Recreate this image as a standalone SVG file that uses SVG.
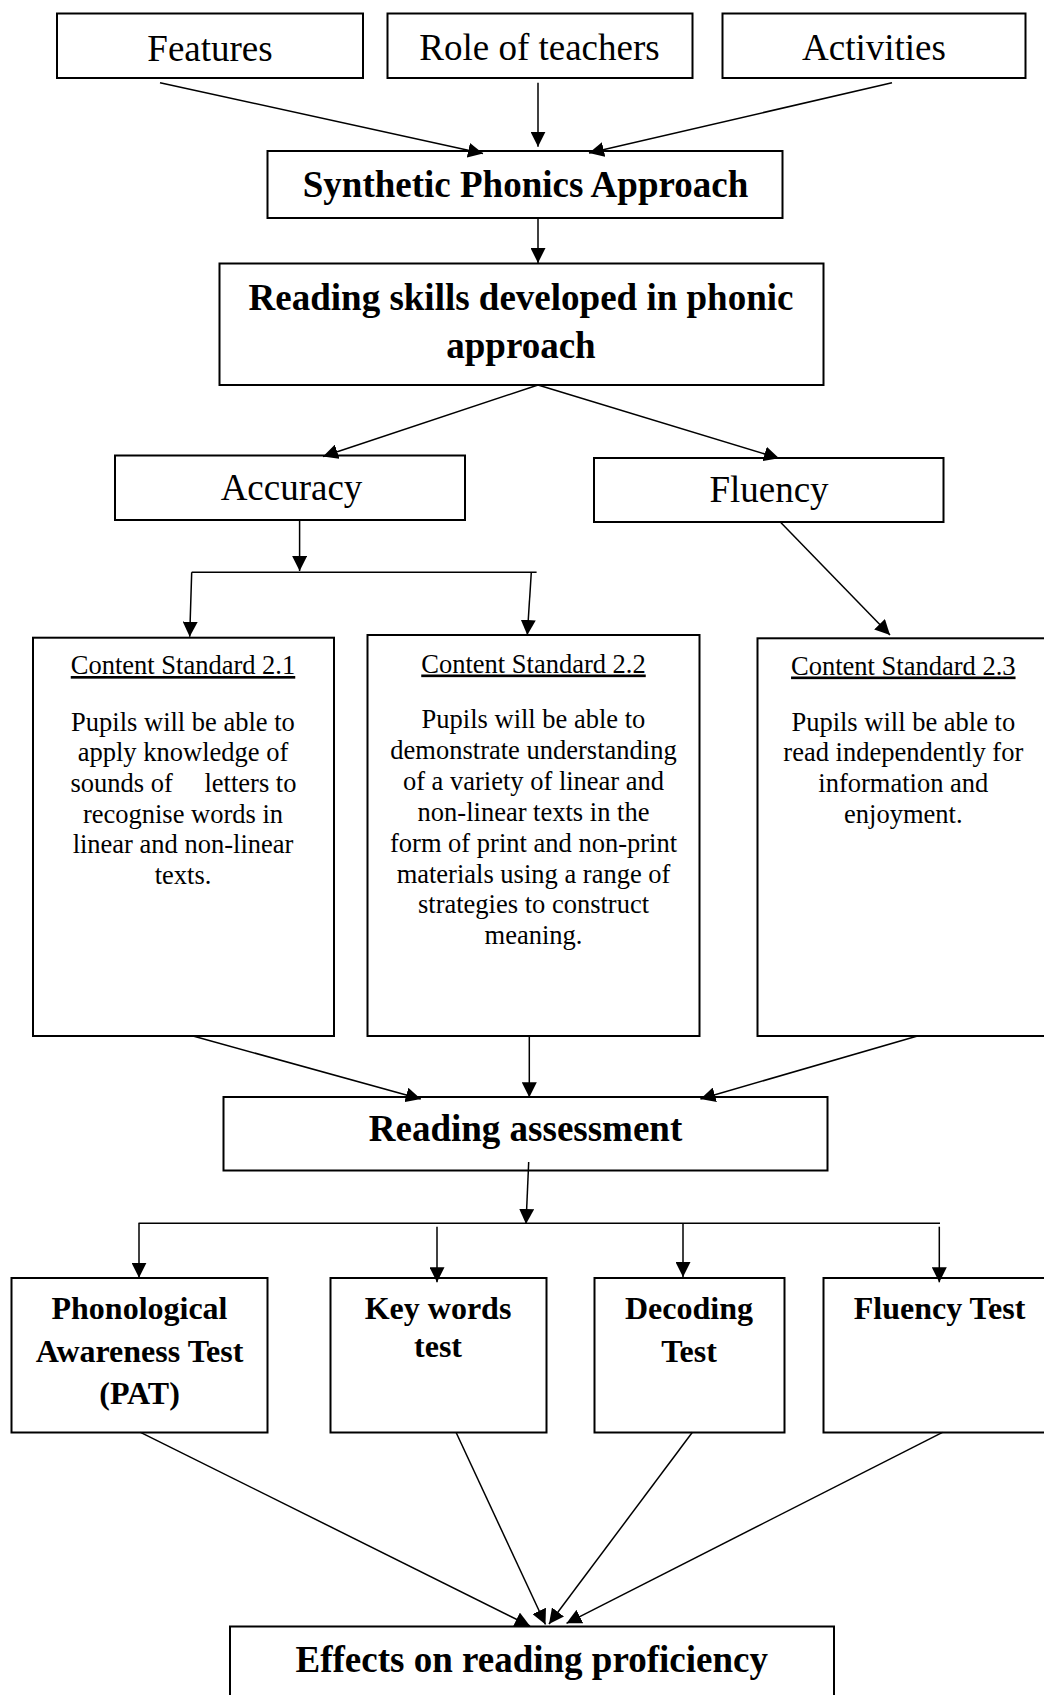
<svg xmlns="http://www.w3.org/2000/svg" width="1044" height="1695" viewBox="0 0 1044 1695">
<style>
.box{fill:#fff;stroke:#000;stroke-width:2}
.lbl{font-family:"Liberation Serif","Times New Roman",serif;font-size:37px;fill:#000;text-anchor:middle}
.b{font-weight:bold}
.t32{font-size:32px}
.cs{font-family:"Liberation Serif","Times New Roman",serif;font-size:26.5px;fill:#000;text-anchor:middle}
.u{text-decoration:underline}
.conn line,.conn polyline{stroke:#000;stroke-width:1.5;fill:none}
.arr{marker-end:url(#ah)}
</style>
<defs>
<marker id="ah" markerUnits="userSpaceOnUse" markerWidth="15" markerHeight="15" viewBox="0 0 15 15" refX="15" refY="7.5" orient="auto">
<path d="M0,0 L15,7.5 L0,15 z" fill="#000"/>
</marker>
</defs>
<rect width="1044" height="1695" fill="#fff"/>

<g id="n-features"><rect class="box" x="57" y="13.5" width="306" height="64.5"/><text class="lbl" x="210" y="61">Features</text></g>
<g id="n-role"><rect class="box" x="387.5" y="13.5" width="305" height="64.5"/><text class="lbl" x="539.5" y="60">Role of teachers</text></g>
<g id="n-activities"><rect class="box" x="722.5" y="13.5" width="303" height="64.5"/><text class="lbl" x="874" y="60">Activities</text></g>
<g id="n-synthetic"><rect class="box" x="267.5" y="151" width="515" height="67"/><text class="lbl b" x="525.5" y="197">Synthetic Phonics Approach</text></g>
<g id="n-skills"><rect class="box" x="219.5" y="263.5" width="604" height="121.5"/><text class="lbl b" x="521" y="310">Reading skills developed in phonic</text><text class="lbl b" x="521" y="358">approach</text></g>
<g id="n-accuracy"><rect class="box" x="115" y="455.5" width="350" height="64.5"/><text class="lbl" x="291.5" y="499.5">Accuracy</text></g>
<g id="n-fluency"><rect class="box" x="594" y="458" width="349.5" height="64"/><text class="lbl" x="769" y="501.5">Fluency</text></g>

<g id="n-cs21"><rect class="box" x="33" y="637.7" width="301" height="398.3"/>
<text class="cs u" x="183" y="674">Content Standard 2.1</text>
<text class="cs" x="183" y="730.5">Pupils will be able to</text>
<text class="cs" x="183" y="761.2">apply knowledge of</text>
<text class="cs" y="791.9"><tspan x="70.5" text-anchor="start">sounds of</tspan><tspan x="296.5" text-anchor="end">letters to</tspan></text>
<text class="cs" x="183" y="822.6">recognise words in</text>
<text class="cs" x="183" y="853.3">linear and non-linear</text>
<text class="cs" x="183" y="884">texts.</text>
</g>
<g id="n-cs22"><rect class="box" x="367.5" y="635" width="332" height="401"/>
<text class="cs u" x="533.5" y="672.5">Content Standard 2.2</text>
<text class="cs" x="533.5" y="728">Pupils will be able to</text>
<text class="cs" x="533.5" y="758.9">demonstrate understanding</text>
<text class="cs" x="533.5" y="789.8">of a variety of linear and</text>
<text class="cs" x="533.5" y="820.7">non-linear texts in the</text>
<text class="cs" x="533.5" y="851.6">form of print and non-print</text>
<text class="cs" x="533.5" y="882.5">materials using a range of</text>
<text class="cs" x="533.5" y="913.4">strategies to construct</text>
<text class="cs" x="533.5" y="944.3">meaning.</text>
</g>
<g id="n-cs23"><rect class="box" x="757.5" y="638.3" width="300" height="397.7"/>
<text class="cs u" x="903.3" y="674.5">Content Standard 2.3</text>
<text class="cs" x="903.3" y="730.5">Pupils will be able to</text>
<text class="cs" x="903.3" y="761.2">read independently for</text>
<text class="cs" x="903.3" y="791.9">information and</text>
<text class="cs" x="903.3" y="822.6">enjoyment.</text>
</g>

<g id="n-assessment"><rect class="box" x="223.5" y="1097" width="604" height="73.5"/><text class="lbl b" x="525.5" y="1141">Reading assessment</text></g>

<g id="n-pat"><rect class="box" x="11.5" y="1278" width="256" height="154.5"/><text class="lbl b t32" x="139.5" y="1318.5">Phonological</text><text class="lbl b t32" x="139.5" y="1361.5">Awareness Test</text><text class="lbl b t32" x="139.5" y="1403.5">(PAT)</text></g>
<g id="n-keywords"><rect class="box" x="330.5" y="1278" width="216" height="154.5"/><text class="lbl b t32" x="438" y="1318.5">Key words</text><text class="lbl b t32" x="438" y="1356.5">test</text></g>
<g id="n-decoding"><rect class="box" x="594.5" y="1278" width="190" height="154.5"/><text class="lbl b t32" x="689" y="1318.5">Decoding</text><text class="lbl b t32" x="689" y="1361.5">Test</text></g>
<g id="n-fluencytest"><rect class="box" x="823.5" y="1278" width="240" height="154.5"/><text class="lbl b t32" x="939.5" y="1319">Fluency Test</text></g>

<g id="n-effects"><rect class="box" x="230" y="1626.5" width="604" height="100"/><text class="lbl b" x="531.7" y="1672">Effects on reading proficiency</text></g>

<g class="conn" id="connectors">
<line class="arr" x1="160" y1="82.7" x2="483" y2="153.5"/>
<line class="arr" x1="538" y1="82.7" x2="538" y2="146.7"/>
<line class="arr" x1="892" y1="82.7" x2="589" y2="153"/>
<line class="arr" x1="538" y1="218" x2="538" y2="263"/>
<line class="arr" x1="538" y1="385" x2="323" y2="456.5"/>
<line class="arr" x1="538" y1="385" x2="779" y2="458.3"/>
<line class="arr" x1="299.6" y1="520" x2="299.6" y2="571"/>
<line x1="191.7" y1="572.3" x2="536.6" y2="572.3"/>
<line class="arr" x1="191.7" y1="572.3" x2="189.7" y2="636.7"/>
<line class="arr" x1="531.3" y1="572.3" x2="527.3" y2="635"/>
<line class="arr" x1="780.3" y1="522" x2="890" y2="635"/>
<line class="arr" x1="193" y1="1036" x2="420.8" y2="1099"/>
<line class="arr" x1="529.3" y1="1036" x2="529.3" y2="1097.3"/>
<line class="arr" x1="917.5" y1="1036" x2="700.4" y2="1099"/>
<line class="arr" x1="528.7" y1="1162" x2="526" y2="1224"/>
<line x1="138.5" y1="1223.3" x2="940" y2="1223.3"/>
<line class="arr" x1="139" y1="1223.3" x2="139" y2="1277.7"/>
<line class="arr" x1="437" y1="1226.7" x2="437" y2="1282.3"/>
<line class="arr" x1="683" y1="1223.3" x2="683" y2="1277"/>
<line class="arr" x1="939.3" y1="1226.7" x2="939.3" y2="1282.3"/>
<line class="arr" x1="140.5" y1="1432.3" x2="530" y2="1626"/>
<line class="arr" x1="456" y1="1432.3" x2="545.5" y2="1624.5"/>
<line class="arr" x1="692.4" y1="1432.3" x2="549" y2="1624"/>
<line class="arr" x1="942.5" y1="1432.3" x2="566.5" y2="1623.3"/>
</g>
</svg>
